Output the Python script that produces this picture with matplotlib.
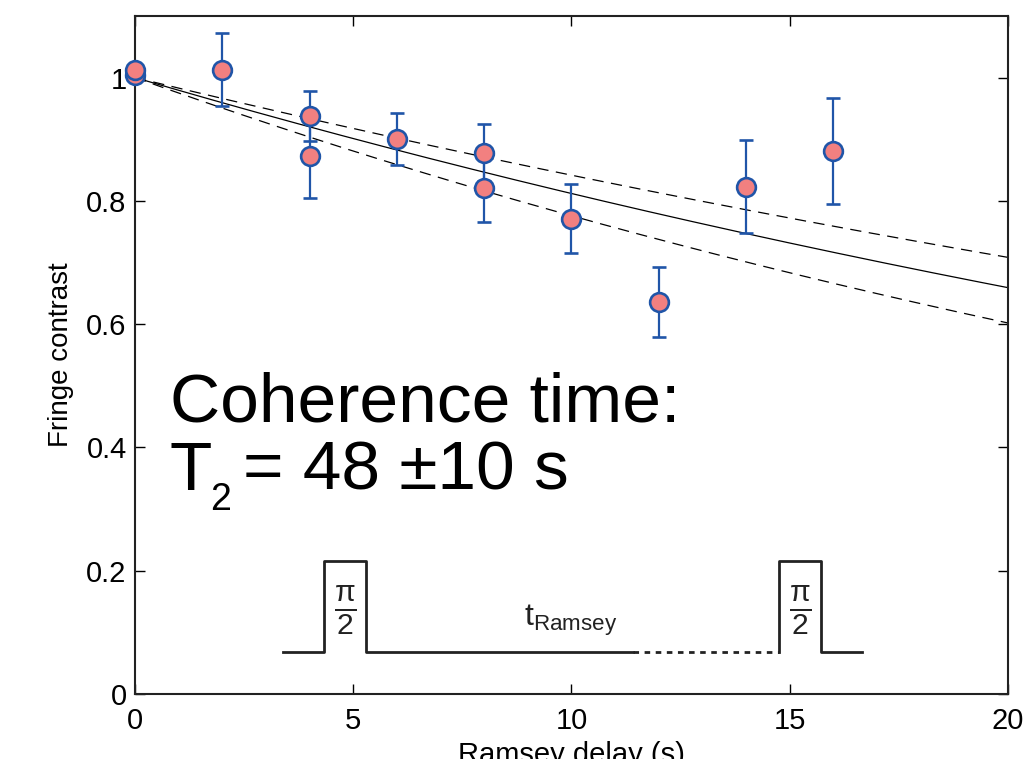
import numpy as np
import matplotlib.pyplot as plt

plt.rcParams['font.family'] = ['Liberation Sans', 'DejaVu Sans']
plt.rcParams['mathtext.fontset'] = 'custom'
plt.rcParams['mathtext.rm'] = 'Liberation Sans'
plt.rcParams['mathtext.it'] = 'Liberation Sans'

# ===== data =====
delay = [0, 0, 2, 4, 4, 6, 8, 8, 10, 12, 14, 16]
contrast = [1.005, 1.012, 1.013, 0.938, 0.873, 0.901, 0.878, 0.821, 0.771, 0.636, 0.823, 0.881]
err = [0.0, 0.0, 0.059, 0.041, 0.068, 0.042, 0.046, 0.056, 0.056, 0.057, 0.075, 0.086]

# fitted T2 and its bounds (s)
T2_fit = 48.0
T2_hi = 58.0
T2_lo = 39.4

# pulse sequence sketch (x in s, y in contrast units)
pulse_lo, pulse_hi = 0.068, 0.216
seq_x = [3.39, 4.33, 4.33, 5.29, 5.29, 11.41]
seq_y = [pulse_lo, pulse_lo, pulse_hi, pulse_hi, pulse_lo, pulse_lo]
dot_x = [11.41, 14.75]
seq2_x = [14.75, 14.75, 15.72, 15.72, 16.65]
seq2_y = [pulse_lo, pulse_hi, pulse_hi, pulse_lo, pulse_lo]

fig = plt.figure(figsize=(10.23, 7.59), dpi=100)
ax = fig.add_axes([0.132, 0.0856, 0.8533, 0.8934])

t = np.linspace(0, 20, 200)
ax.plot(t, np.exp(-t / T2_fit), 'k-', lw=0.9)
ax.plot(t, np.exp(-t / T2_hi), 'k--', lw=0.9, dashes=(9, 6))
ax.plot(t, np.exp(-t / T2_lo), 'k--', lw=0.9, dashes=(9, 6))

eb = ax.errorbar(delay, contrast, yerr=err, fmt='o', ms=13.5, mfc='#f28080', mec='#2055a8',
                 mew=1.9, ecolor='#2055a8', elinewidth=1.6, capsize=5, capthick=1.6, zorder=5)
for art in eb.lines[0:1] + tuple(eb.lines[1]) + tuple(eb.lines[2]):
    art.set_clip_on(False)

# pulse sketch
ax.plot(seq_x, seq_y, color='#222222', lw=2)
ax.plot(dot_x, [pulse_lo, pulse_lo], color='#222222', lw=2, ls=(0, (2, 2)))
ax.plot(seq2_x, seq2_y, color='#222222', lw=2)
for xc in [(4.33 + 5.29) / 2, (14.75 + 15.72) / 2]:
    ax.text(xc, 0.136, r'$\frac{\pi}{2}$', fontsize=31, ha='center', va='center', color='#222222')
ax.text(9.97, 0.12, r'$\mathregular{t_{Ramsey}}$', fontsize=23, ha='center', va='center', color='#222222')

# big label
ax.text(0.8, 0.442, 'Coherence time:', fontsize=50, ha='left', va='baseline')
ax.text(0.8, 0.331, 'T', fontsize=50, ha='left', va='baseline')
ax.text(1.72, 0.299, '2', fontsize=27, ha='left', va='baseline')
ax.text(2.47, 0.331, '= 48 ±10 s', fontsize=50, ha='left', va='baseline')

ax.set_xlim(0, 20)
ax.set_ylim(0, 1.1)
ax.set_xticks([0, 5, 10, 15, 20])
ax.set_yticks([0, 0.2, 0.4, 0.6, 0.8, 1.0])
ax.set_yticklabels(['0', '0.2', '0.4', '0.6', '0.8', '1'])
ax.tick_params(direction='in', length=7, width=1, top=True, right=True, labelsize=21)
ax.tick_params(axis='y', pad=6)
ax.tick_params(axis='x', pad=9)
for s in ax.spines.values():
    s.set_linewidth(1.5)
    s.set_color('#222222')
ax.set_xlabel('Ramsey delay (s)', fontsize=21, labelpad=5)
ax.set_ylabel('Fringe contrast', fontsize=20, labelpad=9)

fig.savefig('out.png', dpi=100)
